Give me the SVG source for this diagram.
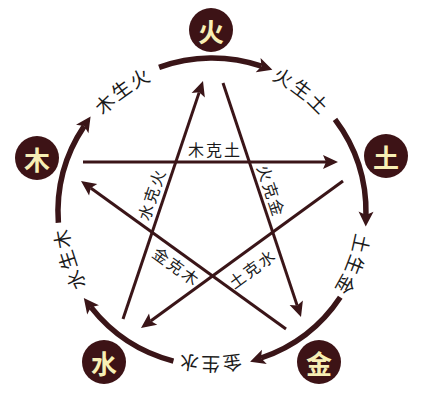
<svg xmlns="http://www.w3.org/2000/svg" xmlns:xlink="http://www.w3.org/1999/xlink" width="424" height="400" viewBox="0 0 424 400">
<style>
.node circle{fill:#3d1316}
.node text{fill:#f7efb5;font-family:"Noto Sans CJK SC","Noto Sans CJK TC",sans-serif;font-size:26px;font-weight:bold;text-anchor:middle;dominant-baseline:central}
.star{fill:none;stroke:#3a1518;stroke-width:3}
.arc{fill:none;stroke:#3a1518;stroke-width:5.5}
.lbl{fill:#1a1a1a;font-family:"Noto Sans CJK SC","Noto Sans CJK TC",sans-serif;text-anchor:middle;dominant-baseline:central}
.s{font-size:16px;letter-spacing:2px}
.a{font-size:19px;letter-spacing:3px}
</style>
<defs>
<marker id="ah" markerUnits="userSpaceOnUse" markerWidth="15" markerHeight="14" refX="3" refY="7" orient="auto" overflow="visible"><path d="M0,0 L15,7 L0,14 L3,7 z" fill="#3a1518"/></marker>
<marker id="ahA" markerUnits="userSpaceOnUse" markerWidth="15" markerHeight="15" refX="3.5" refY="7.5" orient="auto" overflow="visible"><path d="M0,0 L15,7.5 L0,15 L3.5,7.5 z" fill="#3a1518"/></marker>
<path id="ring" d="M366,212 A154,154 0 1,1 58,212 A154,154 0 1,1 366,212"/>
</defs>
<rect width="424" height="400" fill="#ffffff"/>
<g id="connectors">
<path class="arc" d="M58.38,222.74 A154,154 0 0,1 84.18,126.12" marker-end="url(#ahA)"/>
<path class="arc" d="M159.08,67.38 A154,154 0 0,1 261.47,66.16" marker-end="url(#ahA)"/>
<path class="arc" d="M334.99,119.32 A154,154 0 0,1 365.97,215.06" marker-end="url(#ahA)"/>
<path class="arc" d="M340.27,297.22 A154,154 0 0,1 261.02,357.99" marker-end="url(#ahA)"/>
<path class="arc" d="M173.44,361.09 A154,154 0 0,1 90.92,307.16" marker-end="url(#ahA)"/>
<path class="star" d="M83,162 L326,162" marker-end="url(#ah)"/>
<path class="star" d="M123,319 L199.18,92.37" marker-end="url(#ah)"/>
<path class="star" d="M223,83 L297.21,305.62" marker-end="url(#ah)"/>
<path class="star" d="M286,329 L90.73,188.02" marker-end="url(#ah)"/>
<path class="star" d="M343,181 L150.7,320.94" marker-end="url(#ah)"/>
</g>
<g id="arc-labels">
<text class="lbl a"><textPath href="#ring" startOffset="628.6">木生火</textPath></text>
<text class="lbl a"><textPath href="#ring" startOffset="824">火生土</textPath></text>
<text class="lbl a"><textPath href="#ring" startOffset="56.1">土生金</textPath></text>
<text class="lbl a"><textPath href="#ring" startOffset="244.7">金生水</textPath></text>
<text class="lbl a"><textPath href="#ring" startOffset="435.6">水生木</textPath></text>
</g>
<g id="star-labels">
<text class="lbl s" transform="translate(215,149)">木克土</text>
<text class="lbl s" transform="translate(151,194) rotate(-71.3)">水克火</text>
<text class="lbl s" transform="translate(272,191) rotate(71.6)">火克金</text>
<text class="lbl s" transform="translate(177,266) rotate(35.8)">金克木</text>
<text class="lbl s" transform="translate(252,268) rotate(-36)">土克水</text>
</g>
<g id="node-huo" class="node"><circle cx="211" cy="30" r="22"/><text x="211" y="30">火</text></g>
<g id="node-mu" class="node"><circle cx="37" cy="158" r="22"/><text x="37" y="158">木</text></g>
<g id="node-tu" class="node"><circle cx="386" cy="156" r="22"/><text x="386" y="156">土</text></g>
<g id="node-shui" class="node"><circle cx="104" cy="362" r="22"/><text x="104" y="362">水</text></g>
<g id="node-jin" class="node"><circle cx="319" cy="362" r="22"/><text x="319" y="362">金</text></g>
</svg>
